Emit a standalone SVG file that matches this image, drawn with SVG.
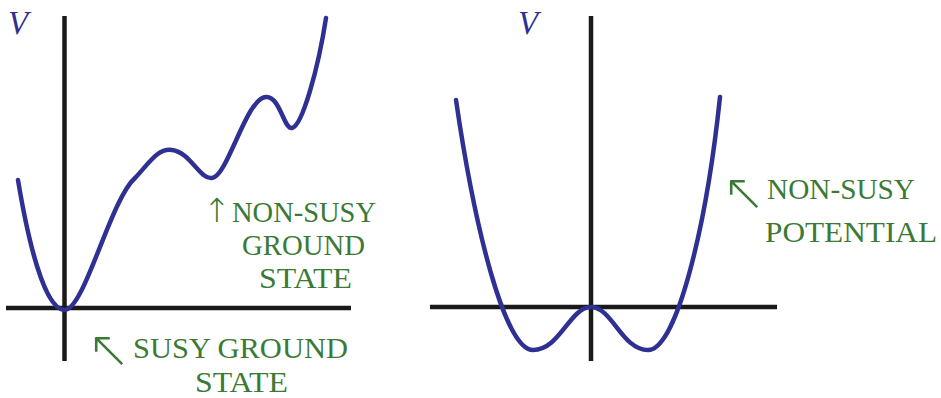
<svg xmlns="http://www.w3.org/2000/svg" width="941" height="398" viewBox="0 0 941 398">
<style>
.axis{stroke:#1a1a1a;stroke-width:4.5;fill:none}
.curve{stroke:#2e3192;stroke-width:4.5;fill:none;stroke-linecap:round;stroke-linejoin:round}
.v{font-style:italic;font-size:33px;fill:#2e3192}
.lbl{font-size:29px;fill:#3b7a35}
.arr{font-family:'DejaVu Sans',sans-serif;font-weight:200;fill:#3b7a35}
</style>
<rect width="941" height="398" fill="#fff"/>
<g id="left-plot">
<line class="axis" x1="64.5" y1="16" x2="64.5" y2="361"/>
<line class="axis" x1="6" y1="308" x2="351" y2="308"/>
<text class="v" x="8" y="34" font-family="Liberation Serif, DejaVu Serif, serif">V</text>
</g>
<g id="right-plot">
<line class="axis" x1="591" y1="16" x2="591" y2="361"/>
<line class="axis" x1="430" y1="307" x2="777" y2="307"/>
<text class="v" x="518" y="34" font-family="Liberation Serif, DejaVu Serif, serif">V</text>
</g>
<g id="connectors">
<path class="curve" d="M18,180 C28,240 44,308 64,310 C84,312 110,200 135,178 C150,162 158,148 172,150 C190,152 200,180 212,178 C228,176 246,98 266,97 C280,96 284,130 292,128 C302,126 318,70 326,18"/>
<path class="curve" d="M456,100 C475,230 505,350 533,350 C560,350 570,307 591,307 C612,307 622,350 648,350 C676,350 706,230 720,97"/>
</g>
<g id="label-nonsusy-ground" font-family="Liberation Serif, DejaVu Serif, serif">
<text class="arr" x="203" y="222" font-size="33">↑</text>
<text class="lbl" x="232" y="222" textLength="144" lengthAdjust="spacingAndGlyphs">NON-SUSY</text>
<text class="lbl" x="242" y="255" textLength="123" lengthAdjust="spacingAndGlyphs">GROUND</text>
<text class="lbl" x="259" y="288" textLength="93" lengthAdjust="spacingAndGlyphs">STATE</text>
</g>
<g id="label-susy-ground" font-family="Liberation Serif, DejaVu Serif, serif">
<text class="arr" x="87" y="367" font-size="52">↖</text>
<text class="lbl" x="133" y="358" textLength="215" lengthAdjust="spacingAndGlyphs">SUSY GROUND</text>
<text class="lbl" x="195" y="392" textLength="93" lengthAdjust="spacingAndGlyphs">STATE</text>
</g>
<g id="label-nonsusy-potential" font-family="Liberation Serif, DejaVu Serif, serif">
<text class="arr" x="722" y="210" font-size="52">↖</text>
<text class="lbl" x="767" y="199" textLength="148" lengthAdjust="spacingAndGlyphs">NON-SUSY</text>
<text class="lbl" x="765" y="242" textLength="172" lengthAdjust="spacingAndGlyphs">POTENTIAL</text>
</g>
</svg>
